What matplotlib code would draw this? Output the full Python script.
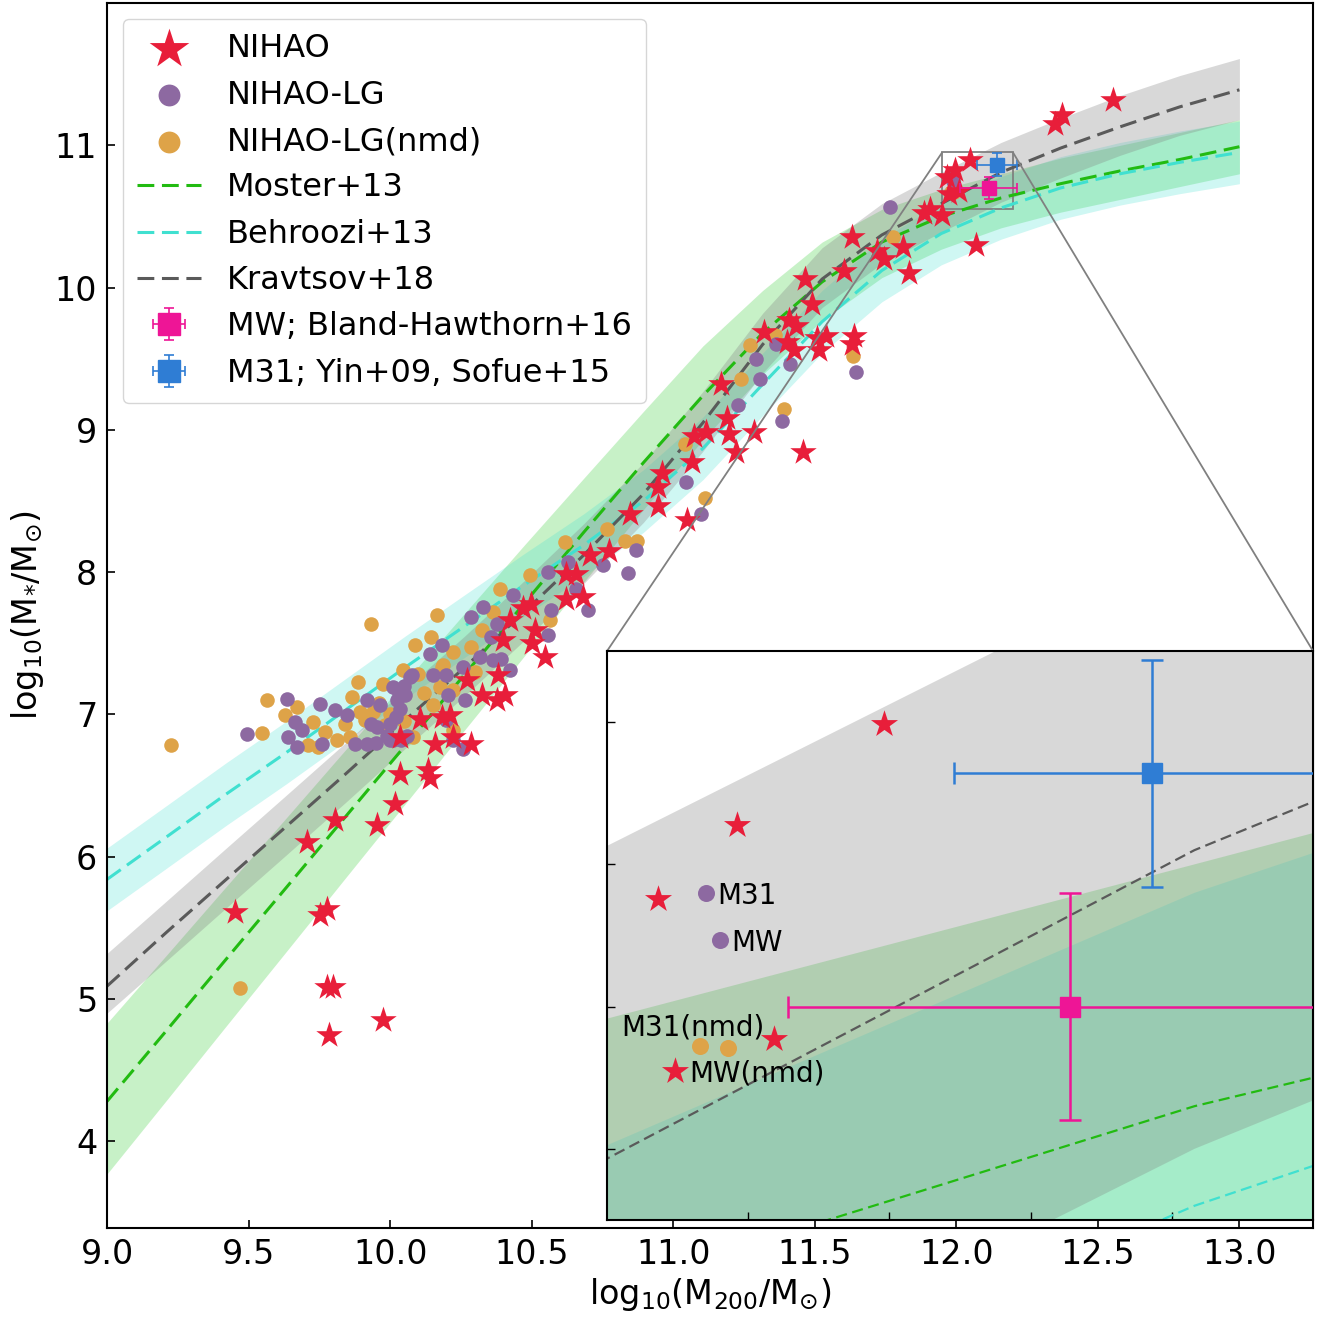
import matplotlib
matplotlib.use("Agg")
import matplotlib.pyplot as plt
from mpl_toolkits.axes_grid1.inset_locator import mark_inset

# ---------------- data ----------------
halo_grid = [9.000, 9.211, 9.421, 9.632, 9.842, 10.053, 10.263, 10.474, 10.684, 10.895,
             11.105, 11.316, 11.526, 11.737, 11.947, 12.158, 12.368, 12.579, 12.789, 13.000]

moster_mid = [4.28, 4.78, 5.28, 5.78, 6.28, 6.78, 7.28, 7.78, 8.28, 8.77,
              9.24, 9.68, 10.04, 10.32, 10.50, 10.63, 10.73, 10.82, 10.90, 10.99]
moster_hi = [4.83, 5.31, 5.79, 6.27, 6.75, 7.23, 7.71, 8.19, 8.66, 9.13,
             9.59, 9.98, 10.32, 10.55, 10.69, 10.80, 10.91, 11.00, 11.09, 11.18]
moster_lo = [3.77, 4.29, 4.81, 5.33, 5.85, 6.37, 6.89, 7.41, 7.93, 8.44,
             8.93, 9.39, 9.77, 10.07, 10.27, 10.42, 10.53, 10.62, 10.71, 10.80]

behroozi_mid = [5.84, 6.14, 6.44, 6.73, 7.03, 7.33, 7.62, 7.91, 8.19, 8.50,
                8.87, 9.32, 9.76, 10.12, 10.38, 10.56, 10.70, 10.80, 10.88, 10.95]
behroozi_hi = [6.06, 6.36, 6.66, 6.95, 7.25, 7.55, 7.84, 8.13, 8.41, 8.72,
               9.09, 9.54, 9.98, 10.34, 10.60, 10.78, 10.92, 11.02, 11.10, 11.17]
behroozi_lo = [5.62, 5.92, 6.22, 6.51, 6.81, 7.11, 7.40, 7.69, 7.97, 8.28,
               8.65, 9.10, 9.54, 9.90, 10.16, 10.34, 10.48, 10.58, 10.66, 10.73]

kravtsov_mid = [5.09, 5.47, 5.84, 6.21, 6.58, 6.96, 7.33, 7.72, 8.12, 8.55,
                9.05, 9.60, 10.06, 10.37, 10.59, 10.81, 10.98, 11.13, 11.27, 11.39]
kravtsov_hi = [5.32, 5.69, 6.06, 6.43, 6.80, 7.18, 7.55, 7.94, 8.34, 8.77,
               9.27, 9.82, 10.28, 10.59, 10.81, 11.02, 11.19, 11.35, 11.49, 11.61]
kravtsov_lo = [4.90, 5.27, 5.64, 6.01, 6.38, 6.76, 7.13, 7.52, 7.92, 8.35,
               8.85, 9.40, 9.86, 10.17, 10.39, 10.60, 10.77, 10.93, 11.07, 11.18]

nihao_points = [
    (12.552, 11.318), (12.372, 11.214), (12.348, 11.149),
    (12.048, 10.899), (11.996, 10.828), (11.968, 10.776), (12.009, 10.677), (11.974, 10.655),
    (11.908, 10.551), (11.948, 10.508), (11.885, 10.525), (12.071, 10.297),
    (11.630, 10.353), (11.720, 10.255), (11.744, 10.198), (11.810, 10.283), (11.834, 10.099),
    (11.605, 10.113), (11.467, 10.057), (11.491, 9.888), (11.410, 9.774), (11.434, 9.732),
    (11.320, 9.690), (11.401, 9.619), (11.426, 9.563), (11.508, 9.647), (11.540, 9.661),
    (11.516, 9.563), (11.638, 9.661), (11.630, 9.605),
    (11.168, 9.323), (11.189, 9.083), (11.116, 8.984), (11.075, 8.956), (11.197, 8.970),
    (11.287, 8.984), (11.222, 8.843), (11.067, 8.772), (10.961, 8.700), (10.945, 8.600),
    (10.945, 8.462), (10.846, 8.410), (11.050, 8.363), (11.458, 8.843), (10.773, 8.151),
    (10.705, 8.118), (10.658, 7.990), (10.623, 7.990), (10.682, 7.825), (10.623, 7.810),
    (10.499, 7.778), (10.470, 7.750), (10.423, 7.661), (10.511, 7.590), (10.500, 7.500),
    (10.399, 7.520), (10.546, 7.403),
    (10.270, 7.240), (10.382, 7.275), (10.323, 7.134), (10.376, 7.099), (10.405, 7.134),
    (10.105, 6.970), (10.182, 6.980), (10.211, 6.993), (10.034, 6.841), (10.158, 6.795),
    (10.223, 6.841), (10.287, 6.795), (10.034, 6.584), (10.134, 6.607), (10.140, 6.550),
    (10.017, 6.373), (9.705, 6.103), (9.805, 6.256), (9.952, 6.221),
    (9.452, 5.611), (9.776, 5.635), (9.752, 5.588), (9.776, 5.084), (9.799, 5.084),
    (9.785, 4.745), (9.976, 4.850),
]

lg_points = [
    (9.493, 6.865), (9.634, 7.111), (9.664, 6.947), (9.640, 6.841), (9.670, 6.771),
    (9.687, 6.888), (9.752, 7.076), (9.758, 6.790), (9.805, 7.029), (9.846, 6.994),
    (9.876, 6.795), (9.917, 7.099), (9.964, 7.064), (9.917, 6.795), (9.952, 6.911),
    (9.934, 6.935), (9.950, 6.800), (9.990, 6.850), (10.011, 7.193), (10.023, 7.099),
    (10.030, 7.150), (10.050, 7.200), (10.070, 7.263), (10.076, 7.275), (10.052, 7.134),
    (10.034, 7.041), (9.999, 6.818), (10.011, 6.818), (10.040, 6.820), (10.060, 6.850),
    (10.020, 6.980), (10.000, 6.930), (10.140, 7.427), (10.182, 7.486), (10.152, 7.275),
    (10.199, 7.275), (10.205, 7.134), (10.258, 7.333), (10.287, 7.685), (10.264, 7.099),
    (10.199, 6.959), (10.223, 6.818), (10.258, 6.760), (10.329, 7.755), (10.434, 7.837),
    (10.558, 8.000), (10.570, 7.731), (10.558, 7.556), (10.376, 7.638), (10.358, 7.544),
    (10.317, 7.403), (10.364, 7.380), (10.393, 7.392), (10.423, 7.310), (10.629, 8.071),
    (10.699, 7.731), (10.658, 7.884), (10.752, 8.048), (10.840, 7.994), (10.870, 8.153),
    (11.046, 8.633), (11.099, 8.411), (11.229, 9.172), (11.305, 9.360), (11.292, 9.500),
    (11.364, 9.601), (11.411, 9.460), (11.385, 9.062), (11.644, 9.406), (11.764, 10.566),
    (11.985, 10.780), (11.990, 10.747),
]

nmd_points = [
    (9.225, 6.783), (9.470, 5.077), (9.546, 6.869), (9.564, 7.104), (9.628, 6.994),
    (9.670, 7.052), (9.728, 6.947), (9.770, 6.876), (9.711, 6.783), (9.746, 6.771),
    (9.811, 6.818), (9.864, 7.122), (9.887, 7.228), (9.893, 7.017), (9.911, 6.959),
    (9.976, 7.216), (9.931, 7.638), (9.858, 6.841), (9.940, 7.020), (9.960, 7.080),
    (9.981, 6.923), (10.000, 7.000), (10.087, 7.486), (10.146, 7.544), (10.166, 7.696),
    (10.187, 7.345), (10.223, 7.439), (10.287, 7.474), (10.046, 7.310), (10.099, 7.287),
    (10.176, 7.193), (10.223, 7.169), (10.081, 6.841), (10.223, 6.888), (10.152, 7.064),
    (10.388, 7.884), (10.493, 7.978), (10.364, 7.720), (10.323, 7.591), (10.182, 7.333),
    (10.564, 7.661), (10.617, 8.211), (10.765, 8.306), (10.830, 8.220), (10.871, 8.220),
    (11.042, 8.899), (11.113, 8.524), (11.271, 9.597), (11.238, 9.356), (11.393, 9.145),
    (11.634, 9.517), (11.358, 9.664), (11.777, 10.353), (10.300, 7.300), (10.120, 7.150),
    (10.050, 6.950), (9.840, 6.930), (11.983, 10.672), (11.993, 10.671),
]

mw_obs = (12.114, 10.70, 0.10, 0.08)    # x, y, xerr, yerr
m31_obs = (12.143, 10.864, 0.07, 0.08)

inset_labels = [("M31", 11.989, 10.778), ("MW", 11.994, 10.745),
                ("M31(nmd)", 11.955, 10.685), ("MW(nmd)", 11.979, 10.653)]

# ---------------- style ----------------
C_NIHAO = '#e81e3a'
C_LG = '#8d69a1'
C_NMD = '#dea348'
C_MOSTER = '#22bb11'
C_BEHROOZI = '#40e0d0'
C_KRAV = '#5a5a5a'
C_MW = '#ee1596'
C_M31 = '#2f7dd4'

fig = plt.figure(figsize=(13.33, 13.17), dpi=100)
ax = fig.add_axes([0.0803, 0.0676, 0.9047, 0.9301])


def unzip(pts):
    return [p[0] for p in pts], [p[1] for p in pts]


def draw(a, lw, dash, ms_sq, cap, elw, s_circ, s_star):
    a.fill_between(halo_grid, moster_lo, moster_hi, color='limegreen', alpha=0.27, lw=0, zorder=1)
    a.fill_between(halo_grid, behroozi_lo, behroozi_hi, color='turquoise', alpha=0.25, lw=0, zorder=1)
    a.fill_between(halo_grid, kravtsov_lo, kravtsov_hi, color='gray', alpha=0.30, lw=0, zorder=1)
    h_mo, = a.plot(halo_grid, moster_mid, color=C_MOSTER, lw=lw, ls=(0, dash), zorder=2)
    h_be, = a.plot(halo_grid, behroozi_mid, color=C_BEHROOZI, lw=lw, ls=(0, dash), zorder=2)
    h_kr, = a.plot(halo_grid, kravtsov_mid, color=C_KRAV, lw=lw, ls=(0, dash), zorder=2)
    x, y = unzip(nmd_points)
    h_nmd = a.scatter(x, y, s=s_circ, color=C_NMD, lw=0, zorder=3)
    x, y = unzip(lg_points)
    h_lg = a.scatter(x, y, s=s_circ, color=C_LG, lw=0, zorder=3)
    x, y = unzip(nihao_points)
    h_ni = a.scatter(x, y, s=s_star, marker='*', color=C_NIHAO, lw=0, zorder=4)
    h_mw = a.errorbar(mw_obs[0], mw_obs[1], xerr=mw_obs[2], yerr=mw_obs[3], fmt='s',
                      color=C_MW, ms=ms_sq, capsize=cap, elinewidth=elw, capthick=elw, zorder=5)
    h_m31 = a.errorbar(m31_obs[0], m31_obs[1], xerr=m31_obs[2], yerr=m31_obs[3], fmt='s',
                       color=C_M31, ms=ms_sq, capsize=cap, elinewidth=elw, capthick=elw, zorder=5)
    return h_ni, h_lg, h_nmd, h_mo, h_be, h_kr, h_mw, h_m31


handles = draw(ax, 2.2, (5.5, 2.5), 10.5, 3.8, 1.2, 110, 400)
labels = ['NIHAO', 'NIHAO-LG', 'NIHAO-LG(nmd)', 'Moster+13', 'Behroozi+13',
          'Kravtsov+18', 'MW; Bland-Hawthorn+16', 'M31; Yin+09, Sofue+15']
ax.legend(handles, labels, loc='upper left', fontsize=23, markerscale=1.5,
          labelspacing=0.48, handletextpad=0.8, borderpad=0.45)

ax.set_xlim(9.0, 13.26)
ax.set_ylim(3.39, 12.0)
ax.set_xticks([9.0, 9.5, 10.0, 10.5, 11.0, 11.5, 12.0, 12.5, 13.0])
ax.set_xticklabels(['9.0', '9.5', '10.0', '10.5', '11.0', '11.5', '12.0', '12.5', '13.0'])
ax.set_yticks([4, 5, 6, 7, 8, 9, 10, 11])
ax.tick_params(direction='in', length=6, width=1.2, labelsize=24, pad=7)
for s in ax.spines.values():
    s.set_linewidth(1.5)
ax.set_xlabel(r'$\mathrm{log_{10}(M_{200}/M_{\odot})}$', fontsize=24, labelpad=4)
ax.set_ylabel(r'$\mathrm{log_{10}(M_{*}/M_{\odot})}$', fontsize=24, labelpad=6)

# ---------------- inset ----------------
axins = ax.inset_axes([0.4146, 0.0065, 0.5854, 0.4645])
draw(axins, 1.6, (5, 2.5), 15, 8, 1.8, 150, 420)
axins.set_xlim(11.95, 12.2)
axins.set_ylim(10.55, 10.95)
axins.set_xticks([12.0, 12.05, 12.1, 12.15])
axins.set_yticks([10.6, 10.7, 10.8, 10.9])
axins.tick_params(direction='in', length=6, width=1.0, labelbottom=False, labelleft=False)
for s in axins.spines.values():
    s.set_linewidth(1.5)
for txt, tx, ty in inset_labels:
    axins.text(tx, ty, txt, fontsize=20, ha='left', va='center', zorder=6)

mark_inset(ax, axins, loc1=2, loc2=1, fc='none', ec='0.5', lw=1.3)

fig.savefig('out.png', dpi=100)
